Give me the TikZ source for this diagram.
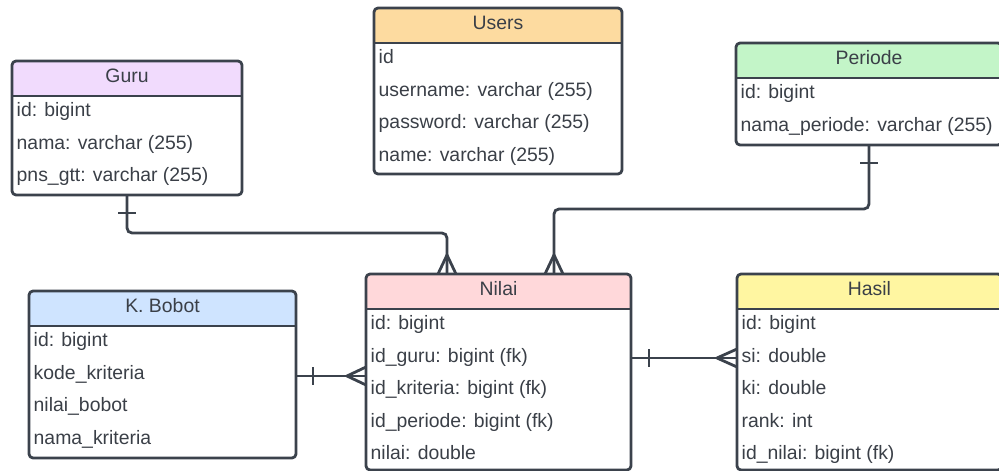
\documentclass[tikz,border=0pt]{standalone}
\usepackage{fontspec}
\setmainfont{Liberation Sans}
\definecolor{ink}{HTML}{3B424C}
\definecolor{txt}{HTML}{3A3F47}
\definecolor{usersfill}{HTML}{FDDBA0}
\definecolor{gurufill}{HTML}{F1DBFD}
\definecolor{periodefill}{HTML}{C3F5C8}
\definecolor{bobotfill}{HTML}{CFE4FF}
\definecolor{nilaifill}{HTML}{FFD8DA}
\definecolor{hasilfill}{HTML}{FFF6A1}

% #1 name, #2 title, #3 left, #4 top, #5 right, #6 bottom, #7 fields, #8 header colour
\newcommand\ertable[8]{%
  \node[tblshape, minimum width={#5-#3}, minimum height={#6-#4}] (#1) at (#3,#4) {};
  \begin{scope}
    \clip[rounded corners=4pt] (#1.north west) rectangle (#1.south east);
    \fill[#8] (#1.north west) rectangle ([yshift=-35pt]#1.north east);
  \end{scope}
  \draw[line, rounded corners=4pt] (#1.north west) rectangle (#1.south east);
  \draw[line] ([yshift=-35pt]#1.north west) -- ([yshift=-35pt]#1.north east);
  \node[hdr] at ([yshift=-21.7pt]#1.north) {#2};
  \foreach \t [count=\i] in {#7} {
    \pgfmathsetmacro\yy{-55.5-32.5*(\i-1)}
    \node[fld] at ([xshift=4.5pt, yshift=\yy pt]#1.north west) {\t};
  }%
}

\begin{document}
\begin{tikzpicture}[x=1pt, y=-1pt,
  line/.style={draw=ink, line width=2.8pt, line join=round},
  conn/.style={draw=ink, line width=2.8pt, rounded corners=5pt},
  tblshape/.style={rectangle, inner sep=0pt, outer sep=0pt, anchor=north west},
  hdr/.style={text=txt, font=\fontsize{19.4}{22}\selectfont, anchor=base, inner sep=0pt},
  fld/.style={text=txt, font=\fontsize{19.4}{22}\selectfont, anchor=base west, inner sep=0pt}]
\useasboundingbox (0,0) rectangle (999,471);
\clip (0,0) rectangle (999,471);

% tables
\ertable{users}{Users}{374}{8}{622}{174}{id, username: varchar (255), password: varchar (255), name: varchar (255)}{usersfill}
\ertable{guru}{Guru}{12}{61}{242}{195}{id: bigint, nama: varchar (255), pns\_gtt: varchar (255)}{gurufill}
\ertable{periode}{Periode}{736}{43}{1002}{145}{id: bigint, nama\_periode: varchar (255)}{periodefill}
\ertable{bobot}{K. Bobot}{29}{291}{296}{458}{id: bigint, kode\_kriteria, nilai\_bobot, nama\_kriteria}{bobotfill}
\ertable{nilai}{Nilai}{366}{274}{631}{470}{id: bigint, id\_guru: bigint (fk), id\_kriteria: bigint (fk), id\_periode: bigint (fk), nilai: double}{nilaifill}
\ertable{hasil}{Hasil}{737}{274}{1002}{470}{id: bigint, si: double, ki: double, rank: int, id\_nilai: bigint (fk)}{hasilfill}

% connector end points
\coordinate (gIn) at ([xshift=-51.5pt]nilai.north);
\coordinate (pIn) at ([xshift=55.5pt]nilai.north);
\coordinate (bOut) at ([yshift=-1.5pt]bobot.east);
\coordinate (kIn) at (bOut -| nilai.west);
\coordinate (hOut) at ([yshift=14pt]nilai.east);
\coordinate (hIn) at (hOut -| hasil.west);

% relationships
\draw[conn] (guru.south) -- ++(0,38) -| (gIn);
\draw[conn] (periode.south) -- ++(0,64) -| (pIn);
\draw[line] (bOut) -- (kIn);
\draw[line] (hOut) -- (hIn);

% "one" ticks
\draw[line] ([yshift=-18pt]guru.south) ++(-9,0) -- ++(18,0);
\draw[line] ([yshift=-18pt]periode.south) ++(-9,0) -- ++(18,0);
\draw[line] ([xshift=17pt]bOut) ++(0,-9) -- ++(0,18);
\draw[line] ([xshift=18pt]hOut) ++(0,-9) -- ++(0,18);

% "many" crow's feet
\draw[line] ([xshift=-9pt]gIn) -- ([yshift=19pt]gIn) -- ([xshift=9pt]gIn);
\draw[line] ([xshift=-9pt]pIn) -- ([yshift=19pt]pIn) -- ([xshift=9pt]pIn);
\draw[line] ([yshift=9pt]kIn) -- ([xshift=-19pt]kIn) -- ([yshift=-9pt]kIn);
\draw[line] ([yshift=9pt]hIn) -- ([xshift=-20pt]hIn) -- ([yshift=-9pt]hIn);
\end{tikzpicture}
\end{document}
